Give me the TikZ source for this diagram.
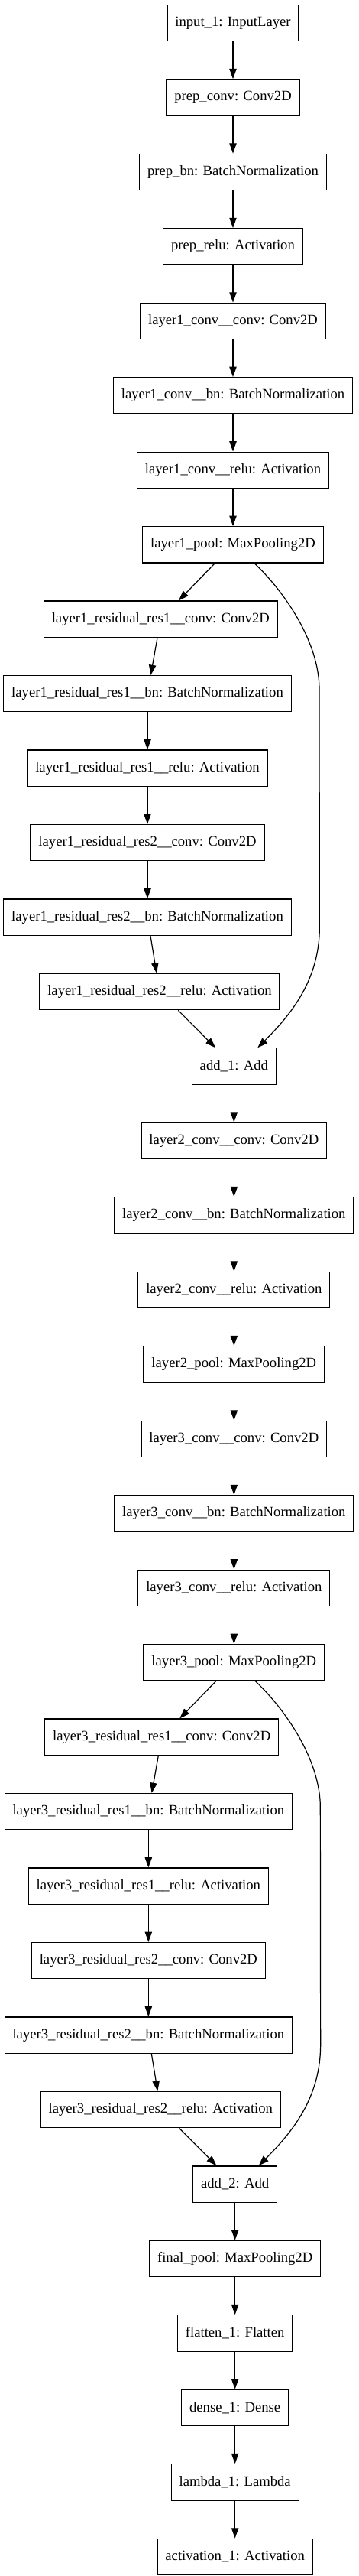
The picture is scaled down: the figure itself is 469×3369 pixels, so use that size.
\documentclass[tikz,border=0pt]{standalone}
\usepackage{fontspec}
\setmainfont{Liberation Serif}
\usepackage{tikz}
\usetikzlibrary{positioning,calc,arrows.meta}
\tikzset{>={Triangle[length=10pt,width=7pt]}}

\begin{document}
\begin{tikzpicture}[x=0.75pt,y=-0.75pt,
layerbox/.style={rectangle, draw=black, line width=0.9pt, align=center, inner xsep=7.8pt, inner ysep=0pt, minimum height=35.5pt, font=\fontsize{14pt}{16pt}\selectfont},
edge/.style={->, line width=0.9pt},
node distance=36.7pt,
]
\useasboundingbox (0,0) rectangle (469,3369);
%Nodes
\node[layerbox](input 1) at (305,30){input\_1: InputLayer};
\node[layerbox](prep conv)[below=of input 1]{prep\_conv: Conv2D};
\node[layerbox](prep bn)[below=of prep conv]{prep\_bn: BatchNormalization};
\node[layerbox](prep relu)[below=of prep bn]{prep\_relu: Activation};
\node[layerbox](layer1 conv conv)[below=of prep relu]{layer1\_conv\_\_conv: Conv2D};
\node[layerbox](layer1 conv bn)[below=of layer1 conv conv]{layer1\_conv\_\_bn: BatchNormalization};
\node[layerbox](layer1 conv relu)[below=of layer1 conv bn]{layer1\_conv\_\_relu: Activation};
\node[layerbox](layer1 pool)[below=of layer1 conv relu]{layer1\_pool: MaxPooling2D};

\node[layerbox](layer1 res1 conv)[below=of layer1 pool, xshift=-71pt]{layer1\_residual\_res1\_\_conv: Conv2D};
\node[layerbox](layer1 res1 bn)[below=of layer1 res1 conv, xshift=-13pt]{layer1\_residual\_res1\_\_bn: BatchNormalization};
\node[layerbox](layer1 res1 relu)[below=of layer1 res1 bn]{layer1\_residual\_res1\_\_relu: Activation};
\node[layerbox](layer1 res2 conv)[below=of layer1 res1 relu]{layer1\_residual\_res2\_\_conv: Conv2D};
\node[layerbox](layer1 res2 bn)[below=of layer1 res2 conv]{layer1\_residual\_res2\_\_bn: BatchNormalization};
\node[layerbox](layer1 res2 relu)[below=of layer1 res2 bn, xshift=12pt]{layer1\_residual\_res2\_\_relu: Activation};
\node[layerbox](add 1)[below=of layer1 res2 relu, xshift=73pt]{add\_1: Add};

\node[layerbox](layer2 conv conv)[below=of add 1]{layer2\_conv\_\_conv: Conv2D};
\node[layerbox](layer2 conv bn)[below=of layer2 conv conv]{layer2\_conv\_\_bn: BatchNormalization};
\node[layerbox](layer2 conv relu)[below=of layer2 conv bn]{layer2\_conv\_\_relu: Activation};
\node[layerbox](layer2 pool)[below=of layer2 conv relu]{layer2\_pool: MaxPooling2D};
\node[layerbox](layer3 conv conv)[below=of layer2 pool]{layer3\_conv\_\_conv: Conv2D};
\node[layerbox](layer3 conv bn)[below=of layer3 conv conv]{layer3\_conv\_\_bn: BatchNormalization};
\node[layerbox](layer3 conv relu)[below=of layer3 conv bn]{layer3\_conv\_\_relu: Activation};
\node[layerbox](layer3 pool)[below=of layer3 conv relu]{layer3\_pool: MaxPooling2D};

\node[layerbox](layer3 res1 conv)[below=of layer3 pool, xshift=-71pt]{layer3\_residual\_res1\_\_conv: Conv2D};
\node[layerbox](layer3 res1 bn)[below=of layer3 res1 conv, xshift=-13pt]{layer3\_residual\_res1\_\_bn: BatchNormalization};
\node[layerbox](layer3 res1 relu)[below=of layer3 res1 bn]{layer3\_residual\_res1\_\_relu: Activation};
\node[layerbox](layer3 res2 conv)[below=of layer3 res1 relu]{layer3\_residual\_res2\_\_conv: Conv2D};
\node[layerbox](layer3 res2 bn)[below=of layer3 res2 conv]{layer3\_residual\_res2\_\_bn: BatchNormalization};
\node[layerbox](layer3 res2 relu)[below=of layer3 res2 bn, xshift=12pt]{layer3\_residual\_res2\_\_relu: Activation};
\node[layerbox](add 2)[below=of layer3 res2 relu, xshift=73pt]{add\_2: Add};

\node[layerbox](final pool)[below=of add 2]{final\_pool: MaxPooling2D};
\node[layerbox](flatten 1)[below=of final pool]{flatten\_1: Flatten};
\node[layerbox](dense 1)[below=of flatten 1]{dense\_1: Dense};
\node[layerbox](lambda 1)[below=of dense 1]{lambda\_1: Lambda};
\node[layerbox](activation 1)[below=of lambda 1]{activation\_1: Activation};

%Lines
\draw[edge] (input 1) -- (prep conv);
\draw[edge] (prep conv) -- (prep bn);
\draw[edge] (prep bn) -- (prep relu);
\draw[edge] (prep relu) -- (layer1 conv conv);
\draw[edge] (layer1 conv conv) -- (layer1 conv bn);
\draw[edge] (layer1 conv bn) -- (layer1 conv relu);
\draw[edge] (layer1 conv relu) -- (layer1 pool);
\draw[edge] (layer1 pool) -- (layer1 res1 conv);
\draw[edge] (layer1 res1 conv) -- (layer1 res1 bn);
\draw[edge] (layer1 res1 bn) -- (layer1 res1 relu);
\draw[edge] (layer1 res1 relu) -- (layer1 res2 conv);
\draw[edge] (layer1 res2 conv) -- (layer1 res2 bn);
\draw[edge] (layer1 res2 bn) -- (layer1 res2 relu);
\draw[edge] (layer1 res2 relu) -- (add 1);

\draw[edge] (add 1) -- (layer2 conv conv);
\draw[edge] (layer2 conv conv) -- (layer2 conv bn);
\draw[edge] (layer2 conv bn) -- (layer2 conv relu);
\draw[edge] (layer2 conv relu) -- (layer2 pool);
\draw[edge] (layer2 pool) -- (layer3 conv conv);
\draw[edge] (layer3 conv conv) -- (layer3 conv bn);
\draw[edge] (layer3 conv bn) -- (layer3 conv relu);
\draw[edge] (layer3 conv relu) -- (layer3 pool);
\draw[edge] (layer3 pool) -- (layer3 res1 conv);
\draw[edge] (layer3 res1 conv) -- (layer3 res1 bn);
\draw[edge] (layer3 res1 bn) -- (layer3 res1 relu);
\draw[edge] (layer3 res1 relu) -- (layer3 res2 conv);
\draw[edge] (layer3 res2 conv) -- (layer3 res2 bn);
\draw[edge] (layer3 res2 bn) -- (layer3 res2 relu);
\draw[edge] (layer3 res2 relu) -- (add 2);

\draw[edge] (add 2) -- (final pool);
\draw[edge] (final pool) -- (flatten 1);
\draw[edge] (flatten 1) -- (dense 1);
\draw[edge] (dense 1) -- (lambda 1);
\draw[edge] (lambda 1) -- (activation 1);

%Skip connections
\coordinate (skip1 start) at ($(layer1 pool.south)+(28,0)$);
\coordinate (skip1 end) at ($(add 1.north)+(31,0)$);
\draw[edge] (skip1 start) .. controls ($(skip1 start)+(42,40)$) and ($(skip1 start)+(85,105)$) .. ($(skip1 start)+(85,165)$) -- ($(skip1 end)+(81,-158)$) .. controls ($(skip1 end)+(81,-88)$) and ($(skip1 end)+(43,-43)$) .. (skip1 end);

\coordinate (skip2 start) at ($(layer3 pool.south)+(28,0)$);
\coordinate (skip2 end) at ($(add 2.north)+(31,0)$);
\draw[edge] (skip2 start) .. controls ($(skip2 start)+(42,40)$) and ($(skip2 start)+(85,105)$) .. ($(skip2 start)+(85,165)$) -- ($(skip2 end)+(81,-158)$) .. controls ($(skip2 end)+(81,-88)$) and ($(skip2 end)+(43,-43)$) .. (skip2 end);
\end{tikzpicture}
\end{document}
